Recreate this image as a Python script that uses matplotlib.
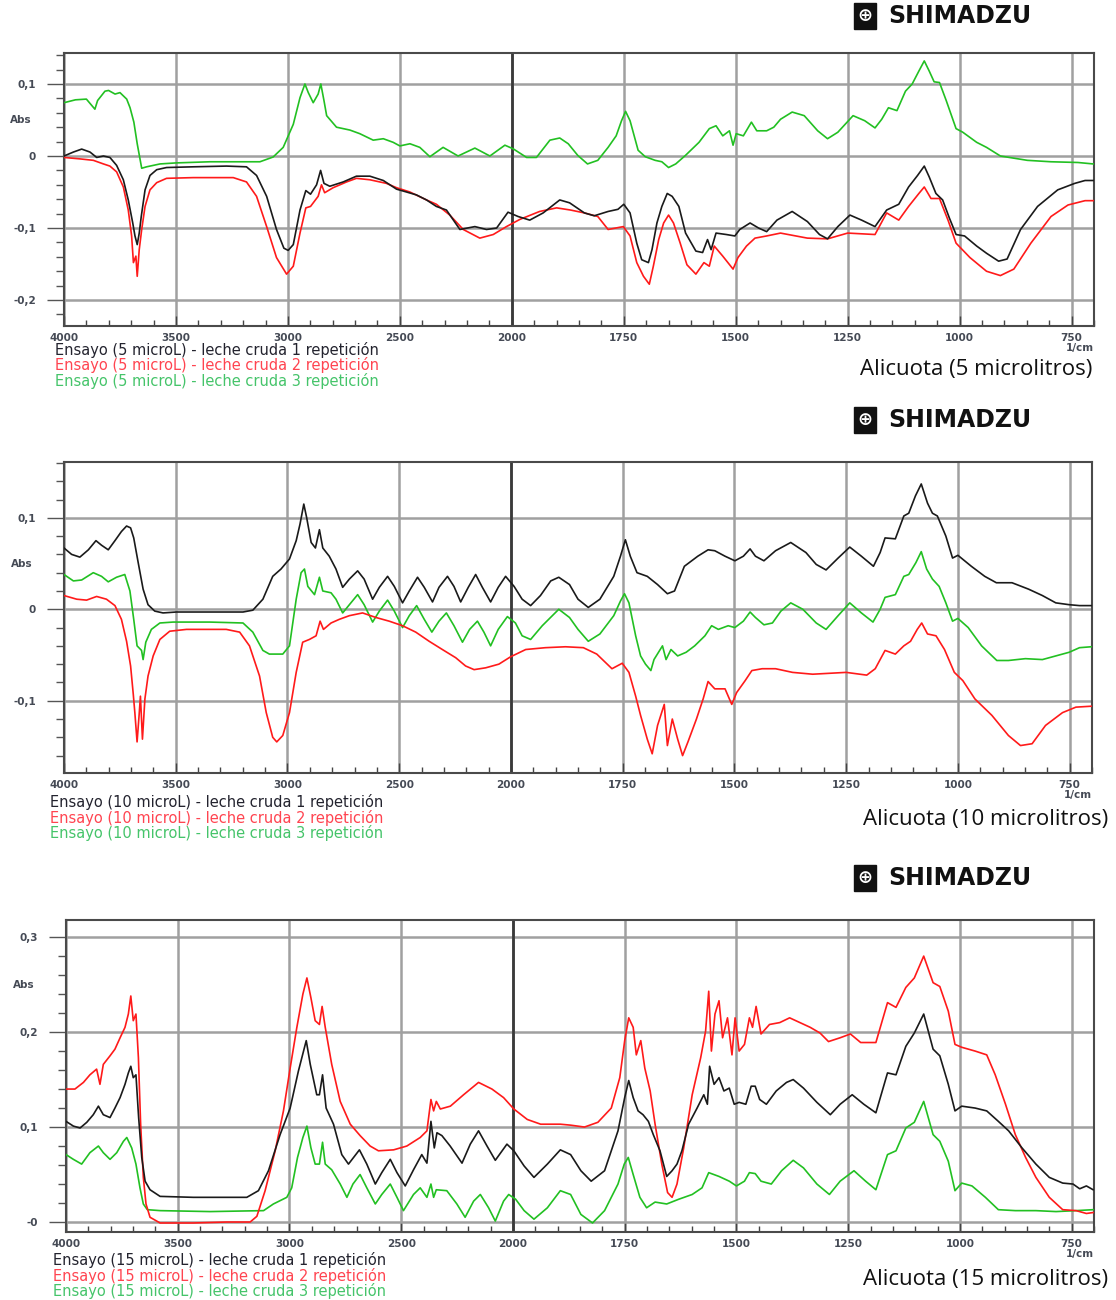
import numpy as np
import matplotlib
matplotlib.use('Agg')
import matplotlib.pyplot as plt
from matplotlib.ticker import FixedLocator
import matplotlib.transforms as mtransforms

# Spectra, (wavenumber 1/cm, Abs)

# Panel 1 - alicuota 5 microlitros
p1_black = [(4000, 0.0), (3958, 0.0055), (3921, 0.0096), (3884, 0.0055), (3854, -0.002), (3824, 0.0),
            (3795, -0.002), (3765, -0.013), (3735, -0.033), (3713, -0.061), (3693, -0.093), (3683, -0.111),
            (3673, -0.123), (3664, -0.107), (3655, -0.084), (3638, -0.047), (3616, -0.027), (3586, -0.019),
            (3542, -0.016), (3423, -0.015), (3274, -0.014), (3185, -0.015), (3140, -0.027), (3095, -0.056),
            (3051, -0.102), (3018, -0.128), (2999, -0.131), (2976, -0.123), (2946, -0.075), (2920, -0.048),
            (2899, -0.053), (2872, -0.040), (2854, -0.020), (2839, -0.038), (2813, -0.042), (2753, -0.036),
            (2694, -0.028), (2634, -0.028), (2574, -0.034), (2515, -0.046), (2470, -0.050), (2426, -0.054),
            (2381, -0.061), (2337, -0.070), (2292, -0.075), (2232, -0.102), (2165, -0.098), (2113, -0.102),
            (2068, -0.100), (2017, -0.078), (1986, -0.084), (1960, -0.089), (1930, -0.079), (1893, -0.061),
            (1871, -0.065), (1838, -0.079), (1816, -0.083), (1785, -0.077), (1763, -0.074), (1750, -0.067),
            (1736, -0.079), (1721, -0.121), (1710, -0.144), (1695, -0.148), (1687, -0.130), (1676, -0.093),
            (1665, -0.070), (1653, -0.052), (1642, -0.056), (1627, -0.070), (1612, -0.107), (1589, -0.132),
            (1574, -0.134), (1563, -0.116), (1555, -0.130), (1544, -0.107), (1521, -0.109), (1502, -0.111),
            (1491, -0.102), (1468, -0.093), (1449, -0.100), (1431, -0.105), (1408, -0.089), (1374, -0.077),
            (1340, -0.091), (1313, -0.109), (1295, -0.115), (1272, -0.098), (1245, -0.082), (1219, -0.089),
            (1189, -0.098), (1163, -0.075), (1136, -0.067), (1114, -0.043), (1094, -0.027), (1079, -0.014),
            (1068, -0.029), (1053, -0.052), (1038, -0.061), (1023, -0.086), (1008, -0.109), (989, -0.111),
            (962, -0.125), (940, -0.135), (913, -0.146), (894, -0.143), (864, -0.102), (826, -0.070),
            (781, -0.047), (743, -0.038), (720, -0.034), (702, -0.034)]

p1_red = [(4000, -0.002), (3929, -0.004), (3869, -0.006), (3824, -0.011), (3795, -0.014), (3765, -0.022),
          (3735, -0.043), (3713, -0.075), (3698, -0.111), (3690, -0.148), (3679, -0.139), (3673, -0.167),
          (3664, -0.130), (3653, -0.102), (3638, -0.070), (3616, -0.047), (3586, -0.037), (3542, -0.031),
          (3423, -0.030), (3244, -0.030), (3185, -0.036), (3140, -0.056), (3095, -0.098), (3051, -0.141),
          (3006, -0.164), (2976, -0.153), (2946, -0.107), (2920, -0.072), (2899, -0.070), (2865, -0.056),
          (2850, -0.040), (2836, -0.051), (2798, -0.044), (2738, -0.036), (2694, -0.031), (2634, -0.033),
          (2560, -0.038), (2515, -0.044), (2455, -0.050), (2381, -0.061), (2337, -0.067), (2277, -0.082),
          (2217, -0.102), (2143, -0.114), (2083, -0.109), (2024, -0.098), (1982, -0.088), (1938, -0.077),
          (1900, -0.072), (1869, -0.075), (1838, -0.079), (1808, -0.084), (1785, -0.102), (1751, -0.098),
          (1736, -0.111), (1721, -0.148), (1706, -0.167), (1693, -0.178), (1684, -0.153), (1672, -0.116),
          (1661, -0.093), (1650, -0.082), (1639, -0.093), (1624, -0.121), (1609, -0.151), (1589, -0.164),
          (1571, -0.148), (1559, -0.153), (1548, -0.125), (1529, -0.139), (1506, -0.157), (1495, -0.141),
          (1476, -0.125), (1457, -0.114), (1431, -0.111), (1400, -0.107), (1340, -0.114), (1295, -0.115),
          (1250, -0.107), (1189, -0.109), (1163, -0.079), (1136, -0.089), (1114, -0.070), (1091, -0.052),
          (1079, -0.043), (1064, -0.059), (1045, -0.059), (1026, -0.089), (1008, -0.121), (977, -0.141),
          (940, -0.160), (909, -0.166), (879, -0.157), (841, -0.121), (796, -0.084), (758, -0.068),
          (720, -0.062), (702, -0.062)]

p1_green = [(4000, 0.074), (3949, 0.078), (3900, 0.079), (3862, 0.065), (3850, 0.077), (3817, 0.090),
            (3801, 0.091), (3772, 0.086), (3750, 0.088), (3720, 0.079), (3705, 0.067), (3688, 0.047),
            (3673, 0.017), (3653, -0.017), (3631, -0.015), (3601, -0.013), (3571, -0.011), (3500, -0.0096),
            (3348, -0.008), (3125, -0.008), (3066, -0.0014), (3021, 0.012), (2976, 0.044), (2946, 0.081),
            (2924, 0.100), (2909, 0.088), (2887, 0.074), (2865, 0.086), (2853, 0.100), (2839, 0.077),
            (2827, 0.056), (2783, 0.040), (2723, 0.036), (2679, 0.031), (2619, 0.022), (2574, 0.024),
            (2530, 0.019), (2500, 0.014), (2455, 0.017), (2411, 0.012), (2366, -0.001), (2307, 0.012),
            (2240, 0.0), (2165, 0.011), (2098, 0.0), (2031, 0.015), (1997, 0.010), (1967, -0.002),
            (1945, -0.002), (1915, 0.022), (1893, 0.025), (1874, 0.017), (1853, 0.001), (1831, -0.011),
            (1808, -0.006), (1785, 0.012), (1767, 0.028), (1755, 0.049), (1746, 0.062), (1736, 0.049),
            (1718, 0.008), (1702, -0.001), (1680, -0.006), (1665, -0.008), (1650, -0.016), (1634, -0.011),
            (1612, 0.001), (1582, 0.019), (1559, 0.038), (1544, 0.042), (1529, 0.028), (1514, 0.035),
            (1506, 0.015), (1499, 0.031), (1483, 0.028), (1465, 0.047), (1453, 0.035), (1431, 0.035),
            (1415, 0.040), (1400, 0.051), (1374, 0.061), (1347, 0.056), (1317, 0.035), (1295, 0.024),
            (1272, 0.033), (1238, 0.056), (1212, 0.049), (1189, 0.039), (1174, 0.051), (1159, 0.067),
            (1140, 0.063), (1121, 0.090), (1106, 0.100), (1091, 0.118), (1079, 0.132), (1068, 0.118),
            (1057, 0.103), (1045, 0.102), (1030, 0.077), (1008, 0.038), (993, 0.033), (962, 0.019),
            (940, 0.012), (909, 0.0), (849, -0.006), (796, -0.008), (736, -0.009), (702, -0.011)]

# Panel 2 - alicuota 10 microlitros
p2_black = [(4000, 0.067), (3966, 0.060), (3929, 0.057), (3891, 0.065), (3857, 0.075), (3832, 0.070),
            (3802, 0.065), (3772, 0.075), (3743, 0.085), (3720, 0.091), (3702, 0.089), (3688, 0.078),
            (3668, 0.051), (3646, 0.022), (3624, 0.005), (3594, -0.002), (3557, -0.004), (3497, -0.003),
            (3348, -0.003), (3199, -0.003), (3155, -0.001), (3110, 0.011), (3066, 0.036), (3029, 0.044),
            (2991, 0.055), (2961, 0.075), (2944, 0.093), (2927, 0.115), (2914, 0.100), (2894, 0.073),
            (2875, 0.067), (2857, 0.087), (2842, 0.067), (2813, 0.058), (2783, 0.044), (2753, 0.024),
            (2723, 0.033), (2686, 0.042), (2657, 0.033), (2619, 0.011), (2589, 0.024), (2552, 0.036),
            (2522, 0.025), (2485, 0.007), (2455, 0.020), (2418, 0.035), (2388, 0.024), (2351, 0.008),
            (2322, 0.024), (2284, 0.036), (2255, 0.025), (2225, 0.008), (2191, 0.024), (2158, 0.038),
            (2128, 0.024), (2091, 0.008), (2057, 0.024), (2024, 0.036), (1993, 0.025), (1975, 0.011),
            (1956, 0.004), (1934, 0.015), (1911, 0.031), (1893, 0.035), (1869, 0.027), (1850, 0.011),
            (1827, 0.002), (1801, 0.011), (1770, 0.036), (1755, 0.058), (1744, 0.076), (1733, 0.058),
            (1718, 0.040), (1695, 0.036), (1672, 0.027), (1650, 0.017), (1634, 0.020), (1612, 0.047),
            (1582, 0.058), (1559, 0.065), (1544, 0.064), (1521, 0.058), (1499, 0.053), (1480, 0.058),
            (1465, 0.066), (1453, 0.058), (1434, 0.053), (1408, 0.064), (1374, 0.073), (1340, 0.062),
            (1317, 0.049), (1295, 0.043), (1268, 0.056), (1242, 0.068), (1216, 0.058), (1189, 0.047),
            (1174, 0.062), (1163, 0.078), (1140, 0.077), (1121, 0.102), (1110, 0.105), (1095, 0.124),
            (1082, 0.137), (1068, 0.116), (1057, 0.105), (1046, 0.102), (1027, 0.080), (1012, 0.056),
            (1000, 0.059), (970, 0.047), (940, 0.036), (914, 0.029), (879, 0.029), (842, 0.022),
            (811, 0.015), (781, 0.007), (751, 0.005), (728, 0.004), (702, 0.004)]

p2_red = [(4000, 0.015), (3943, 0.011), (3899, 0.010), (3854, 0.014), (3810, 0.011), (3772, 0.004),
          (3743, -0.011), (3720, -0.035), (3702, -0.062), (3690, -0.093), (3683, -0.113), (3673, -0.145),
          (3664, -0.116), (3658, -0.095), (3649, -0.142), (3638, -0.098), (3624, -0.073), (3601, -0.051),
          (3571, -0.033), (3527, -0.024), (3452, -0.022), (3274, -0.022), (3214, -0.025), (3170, -0.040),
          (3125, -0.073), (3095, -0.113), (3066, -0.140), (3048, -0.145), (3021, -0.138), (2991, -0.113),
          (2961, -0.069), (2932, -0.036), (2902, -0.033), (2872, -0.029), (2854, -0.013), (2839, -0.022),
          (2805, -0.015), (2768, -0.011), (2723, -0.007), (2664, -0.004), (2604, -0.009), (2545, -0.013),
          (2485, -0.018), (2426, -0.025), (2366, -0.035), (2307, -0.044), (2247, -0.053), (2203, -0.062),
          (2165, -0.066), (2113, -0.064), (2054, -0.060), (2002, -0.052), (1967, -0.044), (1923, -0.042),
          (1878, -0.041), (1838, -0.042), (1808, -0.049), (1774, -0.065), (1751, -0.059), (1736, -0.069),
          (1721, -0.095), (1710, -0.116), (1695, -0.142), (1684, -0.158), (1672, -0.127), (1657, -0.104),
          (1650, -0.149), (1639, -0.120), (1627, -0.142), (1616, -0.160), (1604, -0.145), (1585, -0.120),
          (1570, -0.098), (1559, -0.079), (1544, -0.087), (1521, -0.087), (1506, -0.104), (1495, -0.091),
          (1476, -0.078), (1461, -0.067), (1438, -0.065), (1408, -0.065), (1370, -0.069), (1325, -0.071),
          (1250, -0.069), (1204, -0.072), (1185, -0.065), (1163, -0.045), (1140, -0.049), (1121, -0.040),
          (1106, -0.035), (1091, -0.022), (1081, -0.015), (1068, -0.027), (1049, -0.029), (1030, -0.044),
          (1008, -0.069), (989, -0.078), (962, -0.098), (924, -0.116), (887, -0.138), (860, -0.149),
          (834, -0.147), (804, -0.127), (766, -0.113), (736, -0.107), (702, -0.106)]

p2_green = [(4000, 0.038), (3958, 0.031), (3921, 0.032), (3869, 0.040), (3832, 0.036), (3802, 0.030),
            (3765, 0.035), (3728, 0.038), (3705, 0.020), (3688, -0.011), (3673, -0.040), (3653, -0.045),
            (3646, -0.055), (3634, -0.036), (3609, -0.022), (3571, -0.015), (3512, -0.014), (3348, -0.014),
            (3199, -0.015), (3155, -0.025), (3110, -0.045), (3081, -0.049), (3021, -0.049), (2991, -0.040),
            (2961, 0.011), (2939, 0.040), (2924, 0.044), (2909, 0.025), (2879, 0.016), (2857, 0.035),
            (2842, 0.020), (2805, 0.018), (2783, 0.011), (2753, -0.004), (2723, 0.005), (2686, 0.016),
            (2657, 0.005), (2619, -0.014), (2589, -0.002), (2552, 0.010), (2522, -0.002), (2485, -0.020),
            (2455, -0.007), (2422, 0.004), (2388, -0.011), (2354, -0.025), (2322, -0.013), (2289, -0.004),
            (2255, -0.018), (2217, -0.036), (2185, -0.022), (2150, -0.013), (2121, -0.025), (2091, -0.040),
            (2057, -0.022), (2016, -0.008), (1990, -0.015), (1975, -0.029), (1956, -0.033), (1930, -0.018),
            (1893, 0.0), (1869, -0.009), (1850, -0.022), (1827, -0.035), (1801, -0.027), (1770, -0.007),
            (1755, 0.009), (1746, 0.017), (1736, 0.007), (1721, -0.029), (1710, -0.051), (1699, -0.060),
            (1687, -0.067), (1680, -0.055), (1661, -0.040), (1653, -0.055), (1642, -0.044), (1627, -0.051),
            (1608, -0.047), (1589, -0.040), (1566, -0.029), (1551, -0.018), (1536, -0.022), (1514, -0.018),
            (1499, -0.020), (1480, -0.013), (1465, -0.003), (1453, -0.009), (1434, -0.017), (1415, -0.015),
            (1396, -0.002), (1374, 0.007), (1347, 0.0), (1317, -0.015), (1295, -0.022), (1268, -0.007),
            (1242, 0.007), (1216, -0.004), (1190, -0.014), (1174, 0.0), (1163, 0.013), (1140, 0.016),
            (1121, 0.036), (1110, 0.038), (1094, 0.051), (1082, 0.063), (1070, 0.044), (1057, 0.033),
            (1042, 0.025), (1027, 0.007), (1012, -0.013), (1000, -0.010), (977, -0.020), (947, -0.040),
            (913, -0.056), (887, -0.056), (849, -0.054), (811, -0.055), (781, -0.051), (751, -0.047),
            (728, -0.042), (702, -0.041)]

# Panel 3 - alicuota 15 microlitros
p3_black = [(4000, 0.106), (3967, 0.101), (3937, 0.099), (3907, 0.105), (3878, 0.113), (3855, 0.122),
            (3833, 0.113), (3803, 0.110), (3781, 0.120), (3758, 0.131), (3736, 0.145), (3721, 0.157),
            (3710, 0.164), (3699, 0.152), (3687, 0.155), (3675, 0.110), (3661, 0.068), (3646, 0.043),
            (3624, 0.034), (3579, 0.027), (3430, 0.026), (3191, 0.026), (3139, 0.033), (3094, 0.054),
            (3042, 0.092), (2997, 0.120), (2960, 0.159), (2925, 0.191), (2907, 0.166), (2878, 0.134),
            (2866, 0.134), (2852, 0.155), (2836, 0.120), (2803, 0.103), (2766, 0.071), (2736, 0.061),
            (2687, 0.076), (2654, 0.061), (2616, 0.040), (2587, 0.052), (2549, 0.066), (2519, 0.052),
            (2482, 0.038), (2445, 0.055), (2408, 0.071), (2385, 0.062), (2367, 0.106), (2352, 0.078),
            (2340, 0.094), (2318, 0.091), (2281, 0.080), (2228, 0.062), (2191, 0.082), (2154, 0.096),
            (2116, 0.080), (2079, 0.065), (2027, 0.082), (1998, 0.075), (1975, 0.059), (1953, 0.047),
            (1923, 0.061), (1894, 0.076), (1871, 0.071), (1848, 0.054), (1825, 0.043), (1795, 0.054),
            (1765, 0.096), (1750, 0.131), (1741, 0.149), (1731, 0.131), (1720, 0.117), (1709, 0.113),
            (1697, 0.106), (1686, 0.092), (1671, 0.075), (1656, 0.048), (1644, 0.054), (1633, 0.061),
            (1622, 0.075), (1607, 0.103), (1588, 0.120), (1573, 0.134), (1565, 0.124), (1560, 0.164),
            (1550, 0.145), (1539, 0.152), (1528, 0.138), (1516, 0.141), (1505, 0.124), (1494, 0.126),
            (1479, 0.124), (1467, 0.143), (1458, 0.143), (1448, 0.129), (1433, 0.124), (1411, 0.138),
            (1388, 0.147), (1373, 0.150), (1350, 0.141), (1320, 0.126), (1290, 0.113), (1268, 0.124),
            (1241, 0.134), (1215, 0.124), (1188, 0.115), (1162, 0.157), (1143, 0.155), (1121, 0.185),
            (1102, 0.199), (1081, 0.219), (1060, 0.182), (1045, 0.175), (1026, 0.145), (1011, 0.117),
            (996, 0.122), (966, 0.120), (940, 0.117), (914, 0.106), (891, 0.096), (861, 0.078),
            (830, 0.061), (800, 0.047), (770, 0.041), (747, 0.040), (732, 0.035), (717, 0.038), (702, 0.034)]

p3_red = [(4000, 0.140), (3960, 0.140), (3922, 0.147), (3893, 0.155), (3863, 0.161), (3848, 0.145),
          (3833, 0.166), (3803, 0.175), (3781, 0.182), (3758, 0.194), (3736, 0.205), (3721, 0.219),
          (3710, 0.238), (3699, 0.212), (3687, 0.219), (3676, 0.173), (3666, 0.103), (3654, 0.047),
          (3642, 0.019), (3624, 0.005), (3579, -0.001), (3430, -0.001), (3281, 0.0), (3176, 0.0),
          (3146, 0.006), (3109, 0.033), (3064, 0.075), (3027, 0.117), (2997, 0.162), (2967, 0.205),
          (2940, 0.240), (2922, 0.257), (2904, 0.236), (2885, 0.212), (2866, 0.208), (2854, 0.227),
          (2840, 0.205), (2811, 0.166), (2773, 0.127), (2728, 0.103), (2684, 0.091), (2639, 0.080),
          (2602, 0.075), (2534, 0.076), (2475, 0.080), (2415, 0.089), (2385, 0.096), (2367, 0.129),
          (2355, 0.117), (2343, 0.127), (2325, 0.119), (2280, 0.122), (2221, 0.134), (2154, 0.147),
          (2094, 0.140), (2042, 0.131), (1998, 0.119), (1968, 0.108), (1938, 0.103), (1894, 0.103),
          (1871, 0.102), (1840, 0.100), (1810, 0.105), (1780, 0.120), (1761, 0.152), (1750, 0.191),
          (1741, 0.215), (1731, 0.205), (1724, 0.176), (1714, 0.191), (1705, 0.162), (1693, 0.138),
          (1682, 0.103), (1667, 0.061), (1654, 0.031), (1644, 0.026), (1633, 0.040), (1618, 0.078),
          (1599, 0.134), (1580, 0.173), (1569, 0.201), (1562, 0.243), (1556, 0.180), (1548, 0.219),
          (1539, 0.233), (1531, 0.194), (1520, 0.215), (1510, 0.176), (1503, 0.215), (1494, 0.180),
          (1482, 0.187), (1471, 0.215), (1464, 0.205), (1456, 0.227), (1445, 0.198), (1426, 0.208),
          (1403, 0.210), (1381, 0.215), (1358, 0.210), (1335, 0.205), (1313, 0.199), (1294, 0.190),
          (1268, 0.194), (1245, 0.198), (1222, 0.189), (1188, 0.189), (1162, 0.231), (1143, 0.226),
          (1121, 0.247), (1102, 0.257), (1081, 0.280), (1060, 0.252), (1045, 0.248), (1026, 0.222),
          (1011, 0.187), (996, 0.184), (966, 0.180), (940, 0.176), (921, 0.155), (898, 0.124),
          (876, 0.092), (853, 0.068), (830, 0.047), (800, 0.026), (770, 0.013), (740, 0.012),
          (717, 0.009), (702, 0.010)]

p3_green = [(4000, 0.071), (3967, 0.066), (3930, 0.061), (3893, 0.073), (3855, 0.080), (3833, 0.073),
            (3803, 0.066), (3773, 0.073), (3743, 0.085), (3728, 0.089), (3706, 0.078), (3687, 0.061),
            (3669, 0.036), (3654, 0.019), (3636, 0.013), (3579, 0.012), (3355, 0.011), (3116, 0.012),
            (3072, 0.019), (3012, 0.026), (2990, 0.036), (2964, 0.068), (2940, 0.089), (2922, 0.101),
            (2904, 0.078), (2885, 0.061), (2866, 0.061), (2852, 0.084), (2840, 0.061), (2811, 0.055),
            (2773, 0.040), (2743, 0.026), (2716, 0.040), (2684, 0.050), (2654, 0.036), (2616, 0.019),
            (2587, 0.029), (2549, 0.040), (2519, 0.026), (2490, 0.012), (2445, 0.029), (2415, 0.036),
            (2385, 0.026), (2367, 0.040), (2355, 0.026), (2343, 0.034), (2296, 0.033), (2251, 0.019),
            (2214, 0.005), (2176, 0.022), (2146, 0.029), (2109, 0.015), (2079, 0.001), (2042, 0.022),
            (2019, 0.029), (1994, 0.024), (1975, 0.012), (1953, 0.003), (1923, 0.015), (1894, 0.033),
            (1871, 0.029), (1848, 0.008), (1822, -0.001), (1795, 0.012), (1765, 0.040), (1751, 0.061),
            (1742, 0.068), (1731, 0.050), (1716, 0.026), (1701, 0.015), (1682, 0.021), (1656, 0.019),
            (1629, 0.024), (1599, 0.029), (1577, 0.036), (1562, 0.052), (1539, 0.048), (1516, 0.043),
            (1500, 0.038), (1482, 0.043), (1471, 0.052), (1458, 0.051), (1445, 0.043), (1422, 0.040),
            (1399, 0.054), (1373, 0.065), (1350, 0.057), (1320, 0.040), (1292, 0.029), (1268, 0.043),
            (1237, 0.054), (1211, 0.043), (1188, 0.034), (1162, 0.071), (1143, 0.075), (1121, 0.099),
            (1102, 0.105), (1081, 0.127), (1060, 0.092), (1045, 0.085), (1026, 0.064), (1011, 0.033),
            (996, 0.041), (973, 0.038), (943, 0.026), (914, 0.013), (876, 0.012), (830, 0.012),
            (785, 0.011), (740, 0.012), (702, 0.013)]

x_major = [4000, 3500, 3000, 2500, 2000, 1750, 1500, 1250, 1000, 750]
x_labels = ['4000', '3500', '3000', '2500', '2000', '1750', '1500', '1250', '1000', '750']

p1_yticks = [-0.2, -0.1, 0.0, 0.1]
p1_ylabels = ['-0,2', '-0,1', '0', '0,1']
p2_yticks = [-0.1, 0.0, 0.1]
p2_ylabels = ['-0,1', '0', '0,1']
p3_yticks = [0.0, 0.1, 0.2, 0.3]
p3_ylabels = ['-0', '0,1', '0,2', '0,3']

series_names = ['leche cruda 1 repetición', 'leche cruda 2 repetición', 'leche cruda 3 repetición']
volumes = ['5', '10', '15']

line_colors = ['#1a1a1a', '#ff1a1a', '#22c022']
text_colors = ['#23232e', '#ff4450', '#45c46a']

W, H = 1116, 1300


def fwd(w):
    # Shimadzu chart: the scale doubles below 2000 1/cm
    w = np.asarray(w, dtype=float)
    return np.where(w >= 2000, 1000 + w / 2.0, w)


def inv(p):
    p = np.asarray(p, dtype=float)
    return np.where(p >= 2000, 2.0 * (p - 1000), p)


def fx(x):
    return x / W


def fy(y):
    return 1 - y / H


fig = plt.figure(figsize=(11.16, 13.0), dpi=100)

panels = [
    dict(box=(64, 53, 1094, 326), ylim=(-0.236, 0.143), yt=p1_yticks, yl=p1_ylabels, abs_y=0.05,
         data=[p1_black, p1_red, p1_green], logo_y=16, leg_x=55, leg_y=350, ali_x=1092, ali_y=369),
    dict(box=(64, 462, 1092, 773), ylim=(-0.179, 0.161), yt=p2_yticks, yl=p2_ylabels, abs_y=0.05,
         data=[p2_black, p2_red, p2_green], logo_y=420, leg_x=50, leg_y=802, ali_x=1108, ali_y=820),
    dict(box=(66, 920, 1094, 1232), ylim=(-0.0105, 0.318), yt=p3_yticks, yl=p3_ylabels, abs_y=0.25,
         data=[p3_black, p3_red, p3_green], logo_y=878, leg_x=53, leg_y=1260, ali_x=1108, ali_y=1279),
]

x_minor = [w for w in range(3900, 2000, -100) if w not in x_major] + \
          [w for w in range(1950, 699, -50) if w not in x_major]

for i, pn in enumerate(panels):
    l, t, r, b = pn['box']
    ax = fig.add_axes([fx(l), fy(b), (r - l) / W, (b - t) / H])
    ax.set_xscale('function', functions=(fwd, inv))
    ax.set_xlim(4000, 700)
    ax.set_ylim(*pn['ylim'])

    for k, ser in enumerate(pn['data']):
        arr = np.array(ser)
        ax.plot(arr[:, 0], arr[:, 1], color=line_colors[k], lw=1.2, zorder=3 - 0.1 * k)

    ax.xaxis.set_major_locator(FixedLocator(x_major))
    ax.xaxis.set_minor_locator(FixedLocator(x_minor))
    ax.set_xticklabels(x_labels, fontsize=7.5, fontweight='bold', color='#454a55')
    ax.yaxis.set_major_locator(FixedLocator(pn['yt']))
    lo, hi = pn['ylim']
    ax.yaxis.set_minor_locator(FixedLocator(np.arange(np.ceil(lo / 0.02) * 0.02, hi, 0.02)))
    ax.set_yticklabels(pn['yl'], fontsize=7.5, fontweight='bold', color='#454a55')

    ax.tick_params(axis='x', which='major', direction='in', length=7, width=1, color='#444', pad=5)
    ax.tick_params(axis='x', which='minor', direction='in', length=4, width=1, color='#444')
    ax.tick_params(axis='y', which='major', direction='out', length=12, width=1, color='#555', pad=8)
    ax.tick_params(axis='y', which='minor', direction='out', length=6, width=1, color='#555')

    ax.grid(True, which='major', color='#a0a0a0', lw=1.8)
    ax.axvline(2000, color='#3a3a3a', lw=2.0, zorder=1.6)
    for sp in ax.spines.values():
        sp.set_color('#4a4a4a')
        sp.set_linewidth(1.5)

    trans = mtransforms.blended_transform_factory(ax.transAxes, ax.transData)
    ax.text(-0.052, pn['abs_y'], 'Abs', transform=trans, ha='left', va='center',
            fontsize=7.5, fontweight='bold', color='#454a55')

    # 1/cm under the last tick
    fig.text(fx(r), fy(b + 22), '1/cm', ha='right', va='center', fontsize=7.5,
             fontweight='bold', color='#454a55')

    # Shimadzu logo
    fig.text(fx(865), fy(pn['logo_y']), '\u2295', ha='center', va='center', fontsize=13,
             fontweight='bold', color='white',
             bbox=dict(boxstyle='square,pad=0.2', facecolor='#111111', edgecolor='#111111'))
    fig.text(fx(888), fy(pn['logo_y']), 'SHIMADZU', ha='left', va='center', fontsize=17,
             fontweight='bold', color='#111111')

    # legend lines under the axis
    for k in range(3):
        fig.text(fx(pn['leg_x']), fy(pn['leg_y'] + 15.5 * k),
                 'Ensayo (%s microL) - %s' % (volumes[i], series_names[k]),
                 ha='left', va='center', fontsize=10.5, color=text_colors[k])

    fig.text(fx(pn['ali_x']), fy(pn['ali_y']), 'Alicuota (%s microlitros)' % volumes[i],
             ha='right', va='center', fontsize=16, family='Open Sans', color='#111111')

fig.savefig('out.png', dpi=100)
